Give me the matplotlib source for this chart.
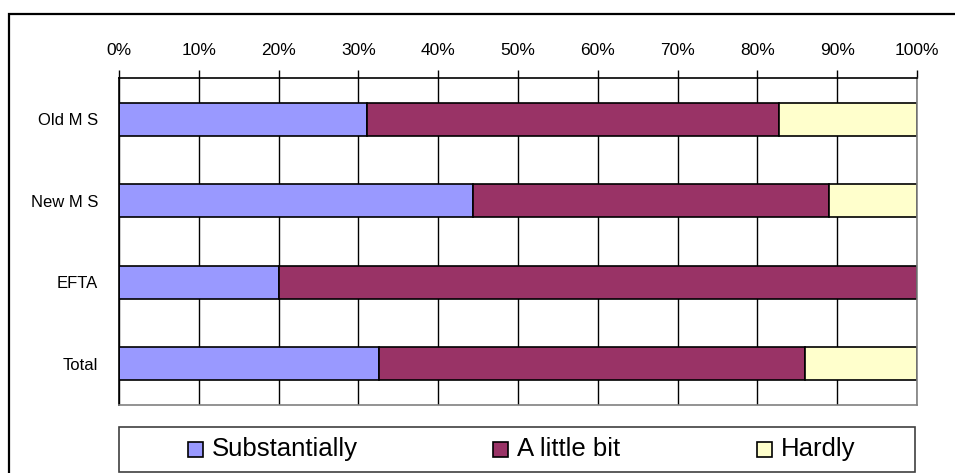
import matplotlib
matplotlib.use("Agg")
import matplotlib.pyplot as plt
from matplotlib.patches import Rectangle
import numpy as np

categories = ["Old M S", "New M S", "EFTA", "Total"]
series_names = ["Substantially", "A little bit", "Hardly"]
substantially = [31.1, 44.4, 20.0, 32.6]
a_little_bit = [51.6, 44.6, 80.0, 53.4]
hardly = [17.3, 11.0, 0.0, 14.0]
colors = ["#9999FF", "#993366", "#FFFFCC"]
xticks = list(range(0, 101, 10))
xtick_labels = [f"{t}%" for t in xticks]

W, H = 955, 473
fig = plt.figure(figsize=(W / 100, H / 100), dpi=100)
fig.patch.set_facecolor("white")

# outer frame
fig.patches.append(Rectangle((9 / W, -0.05), 1.0, 1 - 14 / H + 0.05,
                             transform=fig.transFigure, fill=False,
                             edgecolor="black", linewidth=1.6))

ax = fig.add_axes([119 / W, 1 - 404.5 / H, 798 / W, (404.5 - 78.5) / H])
y = np.arange(len(categories))
series = [substantially, a_little_bit, hardly]
left = np.zeros(len(categories))
for name, vals, c in zip(series_names, series, colors):
    vals = np.array(vals)
    ax.barh(y, vals, left=left, height=0.41, color=c, edgecolor="black",
            linewidth=1.2, label=name, zorder=3)
    left = left + vals

ax.set_xlim(0, 100)
ax.set_ylim(len(categories) - 0.5, -0.5)
ax.set_xticks(xticks)
ax.set_xticklabels(xtick_labels, fontsize=12.5, family="Liberation Sans")
ax.xaxis.tick_top()
ax.tick_params(axis="x", direction="out", length=6, width=1, pad=9, colors="black")
ax.set_yticks(y)
ax.set_yticklabels(categories, fontsize=12, family="Liberation Sans")
ax.tick_params(axis="y", length=0, pad=15)
ax.grid(axis="x", color="black", linewidth=1, zorder=0)
ax.set_axisbelow(True)
ax.spines["top"].set_color("black")
ax.spines["left"].set_color("black")
ax.spines["right"].set_color("#808080")
ax.spines["bottom"].set_color("#808080")
for s in ax.spines.values():
    s.set_linewidth(1.2)
    s.set_zorder(4)

# legend box
lx0, lx1, ly0, ly1 = 119, 915, 427, 472
fig.patches.append(Rectangle((lx0 / W, 1 - ly1 / H), (lx1 - lx0) / W, (ly1 - ly0) / H,
                             transform=fig.transFigure, fill=True, facecolor="white",
                             edgecolor="#404040", linewidth=1.2))
marker_x = [188, 493, 757]
ymid = 449.5
for name, c, mx in zip(series_names, colors, marker_x):
    fig.patches.append(Rectangle((mx / W, 1 - (ymid + 7.5) / H), 15 / W, 15 / H,
                                 transform=fig.transFigure, facecolor=c,
                                 edgecolor="black", linewidth=1.2))
    fig.text((mx + 24) / W, 1 - (ymid - 1) / H, name, fontsize=18.5,
             family="Liberation Sans", ha="left", va="center", color="black")

fig.savefig("out.png", dpi=100, facecolor="white")
